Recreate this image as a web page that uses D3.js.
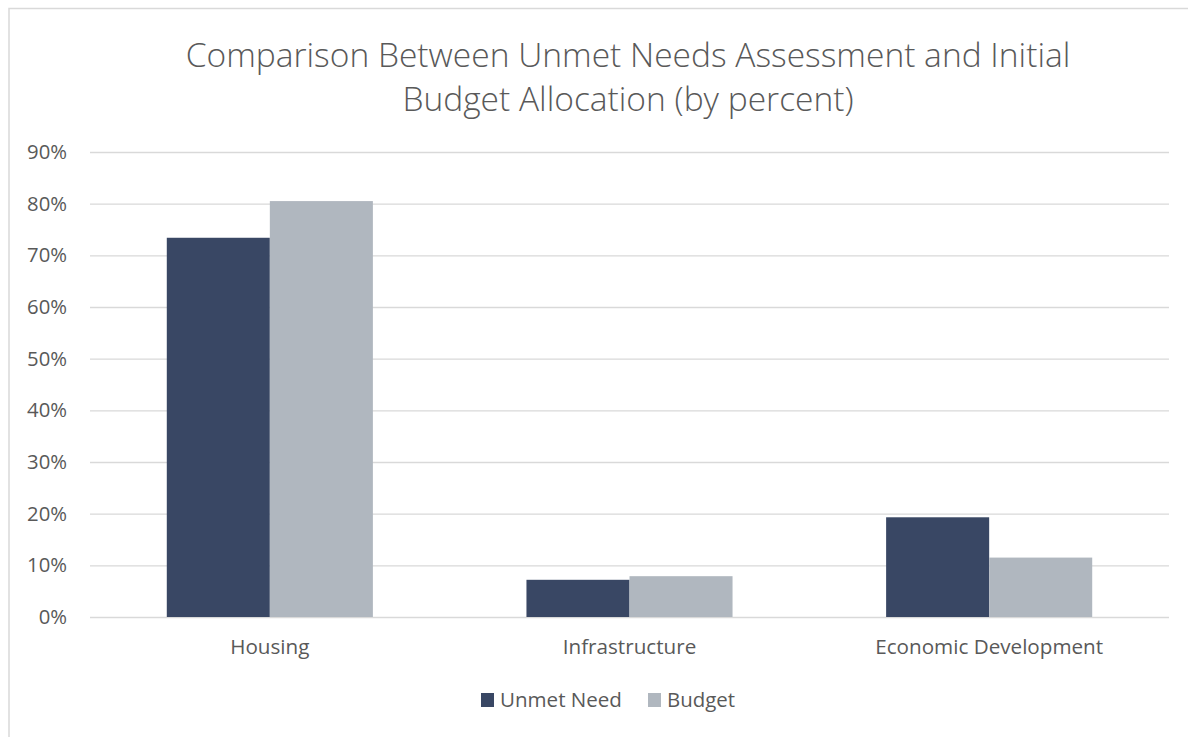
<!DOCTYPE html>
<html>
<head>
<meta charset="utf-8">
<script src="https://cdn.jsdelivr.net/npm/d3@7"></script>
<style>
  body { margin: 0; background: #fff; }
  text { font-family: "Open Sans", "DejaVu Sans", sans-serif; fill: #595959; }
</style>
</head>
<body>
<script>
var categories = ["Housing", "Infrastructure", "Economic Development"];
var seriesNames = ["Unmet Need", "Budget"];
var unmetNeed = [73.4, 7.2, 19.3];
var budget = [80.5, 7.9, 11.5];
var yTicks = [0, 10, 20, 30, 40, 50, 60, 70, 80, 90];
var titleLines = ["Comparison Between Unmet Needs Assessment and Initial", "Budget Allocation (by percent)"];
var colors = ["#394764", "#b0b7bf"];

var W = 1188, H = 737;
var margin = {top: 152, right: 19, bottom: 120, left: 90};

var svg = d3.select("body").append("svg")
    .attr("width", W)
    .attr("height", H);

// outer chart border
svg.append("rect")
    .attr("x", 9).attr("y", 8.5)
    .attr("width", W + 10).attr("height", H + 10)
    .attr("fill", "none")
    .attr("stroke", "#d9d9d9")
    .attr("stroke-width", 1.5);

// scale a selection's font so its first node is `target` px wide
function fitFont(sel, base, target) {
    sel.style("font-size", base + "px");
    var w = sel.node().getComputedTextLength();
    sel.style("font-size", (base * target / w).toFixed(2) + "px");
}

var width = W - margin.left - margin.right;
var height = H - margin.top - margin.bottom;

var g = svg.append("g")
    .attr("transform", "translate(" + margin.left + "," + margin.top + ")");

var x0 = d3.scaleBand().domain(categories).range([0, width])
    .paddingInner(0.427).paddingOuter(0.2135);
var x1 = d3.scaleBand().domain(seriesNames).range([0, x0.bandwidth()]);
var y = d3.scaleLinear().domain([0, 90]).range([height, 0]);

// gridlines + y labels
var yAxis = g.append("g")
    .call(d3.axisLeft(y).tickValues(yTicks).tickSize(-width).tickPadding(23)
        .tickFormat(function(d) { return d + "%"; }));
yAxis.select(".domain").remove();
yAxis.selectAll(".tick line").attr("stroke", "#d9d9d9").attr("stroke-width", 1.3);
var yl = yAxis.selectAll(".tick text").attr("fill", "#595959");
// last tick is "90%", width about 40px in the reference
yl.style("font-size", "18px");
var w90 = yAxis.selectAll(".tick text").nodes()[9].getComputedTextLength();
yl.style("font-size", (18 * 40 / w90).toFixed(2) + "px");

var data = categories.map(function(c, i) {
    return {cat: c, vals: [{s: seriesNames[0], v: unmetNeed[i]}, {s: seriesNames[1], v: budget[i]}]};
});

var groups = g.selectAll(".grp").data(data).enter().append("g")
    .attr("transform", function(d) { return "translate(" + x0(d.cat) + ",0)"; });

groups.selectAll("rect").data(function(d) { return d.vals; }).enter().append("rect")
    .attr("x", function(d) { return x1(d.s); })
    .attr("y", function(d) { return y(d.v); })
    .attr("width", x1.bandwidth())
    .attr("height", function(d) { return height - y(d.v); })
    .attr("fill", function(d, i) { return colors[i]; });

// x axis labels
var xAxis = g.append("g")
    .attr("transform", "translate(0," + height + ")")
    .call(d3.axisBottom(x0).tickSize(0).tickPadding(22));
xAxis.select(".domain").remove();
var xl = xAxis.selectAll(".tick text").attr("fill", "#595959");
xl.style("font-size", "18px");
var wEco = xl.nodes()[2].getComputedTextLength();
xl.style("font-size", (18 * 228 / wEco).toFixed(2) + "px");

// title, scaled to fit reference width
var tl = svg.append("g").selectAll("text").data(titleLines).enter().append("text")
    .attr("x", 628)
    .attr("y", function(d, i) { return 67 + i * 44; })
    .attr("text-anchor", "middle")
    .style("font-weight", 300)
    .text(function(d) { return d; });
fitFont(tl, 31, 885);

// legend
var legend = svg.append("g").attr("transform", "translate(0,700)");
var lx = [481, 648];
seriesNames.forEach(function(s, i) {
    legend.append("rect")
        .attr("x", lx[i]).attr("y", -7)
        .attr("width", 13).attr("height", 14)
        .attr("fill", colors[i]);
    var t = legend.append("text")
        .attr("x", lx[i] + 19).attr("y", 0)
        .attr("dy", "0.35em")
        .text(s);
    fitFont(t, 19, i === 0 ? 122 : 68);
});
</script>
</body>
</html>
